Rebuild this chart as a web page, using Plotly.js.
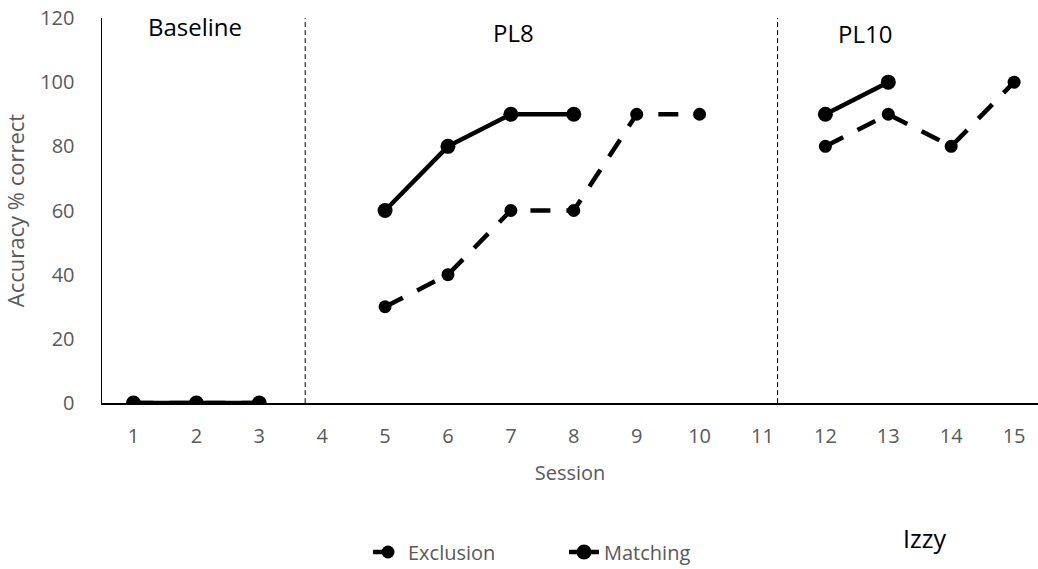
<!DOCTYPE html>
<html>
<head>
<meta charset="utf-8">
<script src="https://cdn.plot.ly/plotly-3.0.1.min.js"></script>
<style>html,body{margin:0;padding:0;background:#fff;}#chart{width:1038px;height:569px;}</style>
</head>
<body>
<div id="chart"></div>
<script>
// Sessions
const sessions = [1,2,3,4,5,6,7,8,9,10,11,12,13,14,15];
// Exclusion series (null = no data; gaps split phases)
const exclusion = [0,0,0,null,30,40,60,60,90,90,null,80,90,80,100];
// Matching series
const matching  = [0,0,0,null,60,80,90,90,null,null,null,90,100,null,null];
// Phase change lines (session positions)
const phaseLines = [3.73, 11.24];
// Phase labels
const phaseNames = ["Baseline","PL8","PL10"];
const phaseLabelX = [1.98, 7.04, 12.63];
const phaseLabelY = [117.2, 115.6, 115.3];
const yTicks = [0,20,40,60,80,100,120];

const FONT = "'Open Sans', sans-serif";
const GRAY = "#595959";

const traces = [
  {
    x: sessions, y: exclusion, name: "Exclusion", type: "scatter", mode: "lines+markers",
    connectgaps: false,
    line: {color: "#000", width: 4.5, dash: "20px,16px"},
    marker: {color: "#000", size: 13, symbol: "circle"}
  },
  {
    x: sessions, y: matching, name: "Matching", type: "scatter", mode: "lines+markers",
    connectgaps: false,
    line: {color: "#000", width: 4.5},
    marker: {color: "#000", size: 15, symbol: "circle"}
  }
];

const shapes = phaseLines.map(v => ({
  type: "line", xref: "x", yref: "y", x0: v, x1: v, y0: 0, y1: 120,
  line: {color: "#000", width: 1, dash: "5px,3px"}, layer: "below"
}));

const annotations = phaseNames.map((t, i) => ({
  text: t, x: phaseLabelX[i], y: phaseLabelY[i], xref: "x", yref: "y",
  xanchor: "center", yanchor: "middle",
  showarrow: false, font: {family: FONT, size: 24, color: "#000"}
}));
annotations.push({
  text: "Izzy", xref: "paper", yref: "paper", x: 0.879, y: -0.35,
  xanchor: "center", yanchor: "middle",
  showarrow: false, font: {family: FONT, size: 25, color: "#000"}
});

const layout = {
  width: 1038, height: 569,
  margin: {l: 102, r: 0, t: 18, b: 166, pad: 0, autoexpand: false},
  paper_bgcolor: "#fff", plot_bgcolor: "#fff",
  font: {family: FONT, color: GRAY, size: 20},
  showlegend: true,
  legend: {
    orientation: "h", x: 0.2842, y: -0.387, xanchor: "left", yanchor: "middle",
    font: {family: FONT, size: 20, color: GRAY}, itemwidth: 30, entrywidth: 151
  },
  xaxis: {
    range: [0.5, 15.38], tickvals: sessions, ticktext: sessions.map(String),
    showgrid: false, zeroline: false, showline: true, linecolor: "#000", linewidth: 1.5,
    ticks: "", ticklabelstandoff: 14,
    tickfont: {family: FONT, size: 20, color: GRAY},
    automargin: false,
    title: {text: "Session", font: {family: FONT, size: 20, color: GRAY}, standoff: 18}
  },
  yaxis: {
    range: [0, 120], tickvals: yTicks,
    showgrid: false, zeroline: false, showline: true, linecolor: "#000", linewidth: 1.5,
    ticks: "", ticklabelstandoff: 22,
    tickfont: {family: FONT, size: 20, color: GRAY},
    automargin: false,
    title: {text: "Accuracy % correct", font: {family: FONT, size: 22, color: GRAY}, standoff: 14}
  },
  shapes: shapes,
  annotations: annotations
};

Plotly.newPlot("chart", traces, layout, {displayModeBar: false, staticPlot: true});
</script>
</body>
</html>
